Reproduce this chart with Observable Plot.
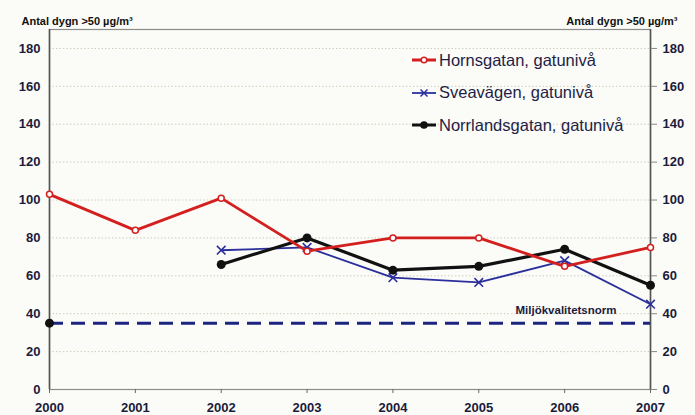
<!DOCTYPE html>
<html>
<head>
<meta charset="utf-8">
<script src="https://cdn.jsdelivr.net/npm/d3@7"></script>
<script src="https://cdn.jsdelivr.net/npm/@observablehq/plot@0.6"></script>
<style>
  html, body { margin: 0; padding: 0; background: #fbfbf8; }
  #wrap { position: relative; width: 695px; height: 415px; font-family: "Liberation Sans", Arial, sans-serif; }
  #legend { position: absolute; left: 411px; top: 44px; }
  .row { display: flex; align-items: center; height: 32.5px; font-size: 16.5px; color: #1e1e46; }
  .row svg { margin-right: 2px; }
</style>
</head>
<body>
<div id="wrap"><div id="legend"></div></div>
<script>
const years = [2000, 2001, 2002, 2003, 2004, 2005, 2006, 2007];
const hornsgatan = [103, 84, 101, 73, 80, 80, 65, 75];
const sveavagen = [null, null, 73.5, 75, 59, 56.5, 68, 45];
const norrlandsgatan = [35, null, 66, 80, 63, 65, 74, 55];
const normValue = 35;
const seriesNames = ["Hornsgatan, gatunivå", "Sveavägen, gatunivå", "Norrlandsgatan, gatunivå"];
const seriesColors = ["#d41f1f", "#2a2f9c", "#111111"];
const yTicks = [0, 20, 40, 60, 80, 100, 120, 140, 160, 180];
const axisTitle = "Antal dygn >50 µg/m³";
const normLabel = "Miljökvalitetsnorm";

const seriesValues = [hornsgatan, sveavagen, norrlandsgatan];
const data = [];
seriesNames.forEach((name, s) => {
  years.forEach((yr, i) => data.push({ series: name, year: yr, value: seriesValues[s][i] }));
});
const ser = name => data.filter(d => d.series === name);

const labelColor = "#1b1b3c";
const chart = Plot.plot({
  width: 695,
  height: 415,
  marginLeft: 49,
  marginRight: 45,
  marginTop: 29,
  marginBottom: 26,
  style: { fontFamily: "Liberation Sans, Arial, sans-serif", background: "transparent", overflow: "visible" },
  x: { domain: [2000, 2007] },
  y: { domain: [0, 190] },
  marks: [
    Plot.gridY(yTicks, { stroke: "#cfcfbc", strokeOpacity: 1, strokeDasharray: "1.5,2" }),
    Plot.frame({ stroke: "#8c8c8c", strokeWidth: 1.2 }),
    Plot.ruleX([2000], { stroke: "#555", strokeWidth: 1.6 }),
    Plot.ruleX([2007], { stroke: "#555", strokeWidth: 1.6 }),
    Plot.ruleY([normValue], { stroke: "#1c2680", strokeWidth: 3, strokeDasharray: "14,8" }),
    Plot.text([normLabel], { x: 2007, y: normValue, text: d => d, textAnchor: "end", dx: -34, dy: -13, fontSize: 11.5, fontWeight: "bold", fill: labelColor }),
    Plot.line(ser(seriesNames[1]), { x: "year", y: "value", stroke: seriesColors[1], strokeWidth: 1.8 }),
    Plot.dot(ser(seriesNames[1]).filter(d => d.value != null), { x: "year", y: "value", symbol: "times", r: 4, stroke: seriesColors[1], strokeWidth: 1.6 }),
    Plot.line(ser(seriesNames[2]), { x: "year", y: "value", stroke: seriesColors[2], strokeWidth: 3.2 }),
    Plot.dot(ser(seriesNames[2]).filter(d => d.value != null), { x: "year", y: "value", r: 4.5, fill: seriesColors[2] }),
    Plot.line(ser(seriesNames[0]), { x: "year", y: "value", stroke: seriesColors[0], strokeWidth: 2.8 }),
    Plot.dot(ser(seriesNames[0]), { x: "year", y: "value", r: 3, fill: "white", stroke: seriesColors[0], strokeWidth: 1.5 }),
    Plot.axisX({ ticks: years, tickFormat: d => String(d), tickSize: 4, tickPadding: 9, fontSize: 13, fontWeight: "bold", fill: labelColor, stroke: "#666", label: null }),
    Plot.axisY({ anchor: "left", ticks: yTicks, tickSize: 0, tickPadding: 9, fontSize: 13, fontWeight: "bold", fill: labelColor, label: null }),
    Plot.axisY({ anchor: "right", ticks: yTicks, tickSize: 6, tickPadding: 6, fontSize: 13, fontWeight: "bold", fill: labelColor, stroke: "#888", label: null }),
    Plot.text([axisTitle], { frameAnchor: "top-left", text: d => d, dx: -28, dy: -12, textAnchor: "start", fontSize: 11, fontWeight: "bold", fill: "#111" }),
    Plot.text([axisTitle], { frameAnchor: "top-right", text: d => d, dx: 27, dy: -12, textAnchor: "end", fontSize: 11, fontWeight: "bold", fill: "#111" })
  ]
});
document.getElementById("wrap").prepend(chart);

// Legend
const legend = document.getElementById("legend");
const markerSvg = (i) => {
  const c = seriesColors[i];
  let m = "";
  if (i === 0) m = `<circle cx="13" cy="8" r="2.8" fill="white" stroke="${c}" stroke-width="1.5"/>`;
  if (i === 1) m = `<path d="M9.5,4.5L16.5,11.5M16.5,4.5L9.5,11.5" stroke="${c}" stroke-width="1.5"/>`;
  if (i === 2) m = `<circle cx="13" cy="8" r="3.8" fill="${c}"/>`;
  const w = i === 1 ? 1.8 : 3;
  return `<svg width="26" height="16"><line x1="1" y1="8" x2="25" y2="8" stroke="${c}" stroke-width="${w}"/>${m}</svg>`;
};
seriesNames.forEach((name, i) => {
  const row = document.createElement("div");
  row.className = "row";
  row.innerHTML = markerSvg(i) + `<span>${name}</span>`;
  legend.appendChild(row);
});
</script>
</body>
</html>
